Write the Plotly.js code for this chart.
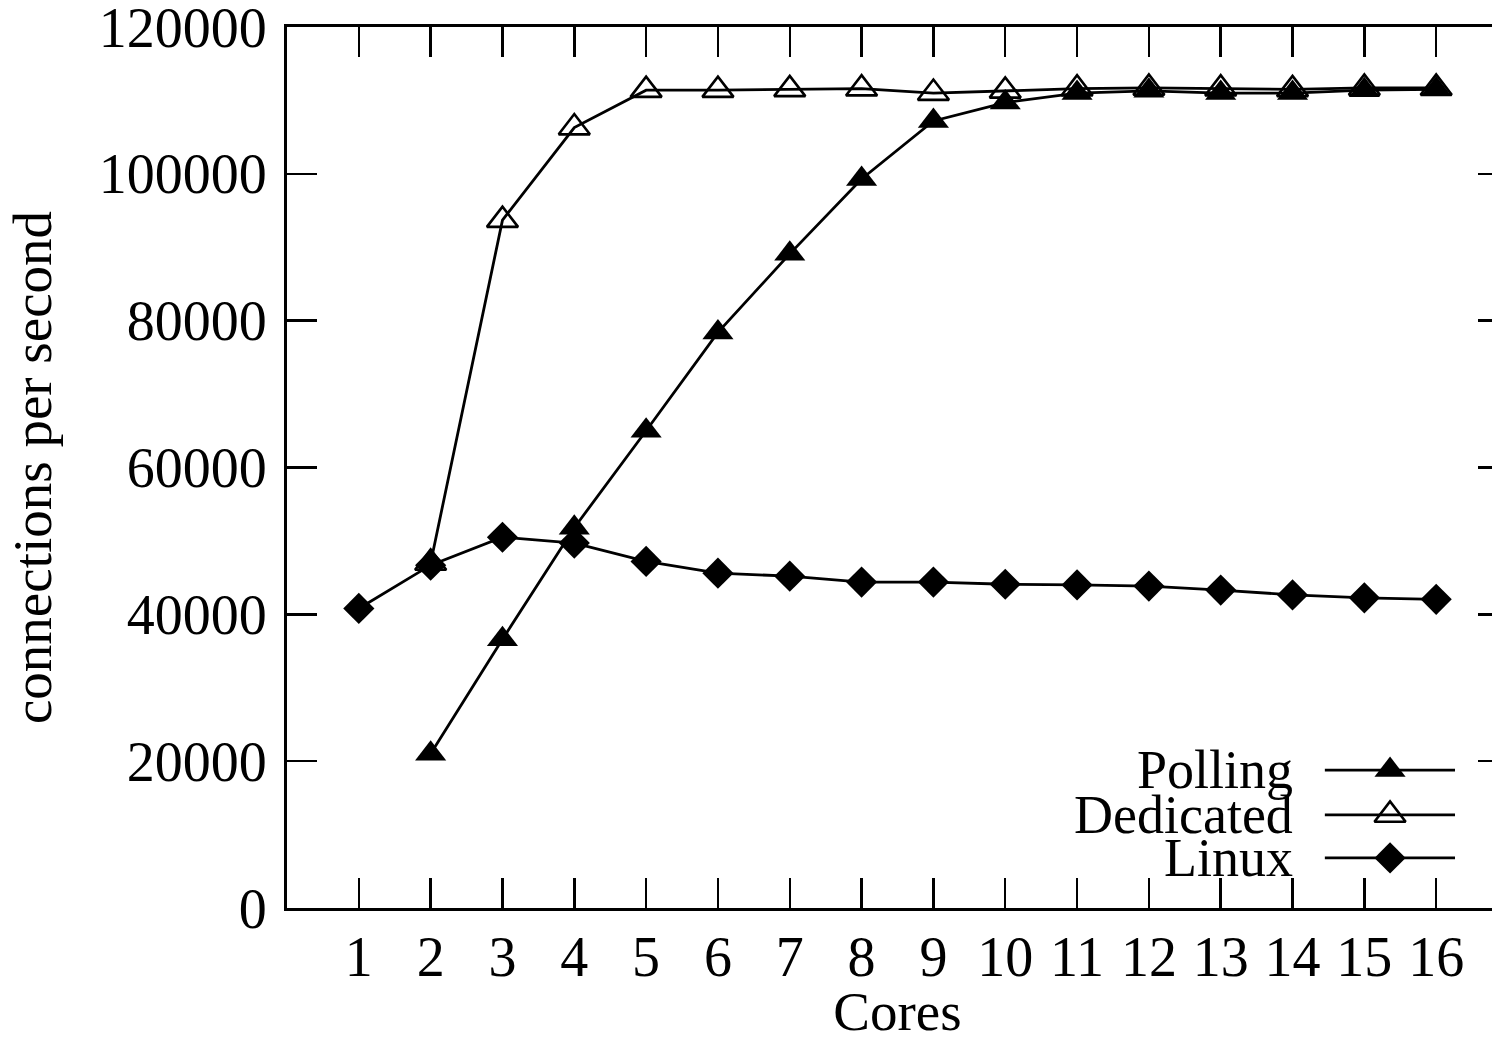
<!DOCTYPE html>
<html>
<head>
<meta charset="utf-8">
<script src="https://cdn.plot.ly/plotly-3.0.1.min.js"></script>
<style>
html, body { margin: 0; padding: 0; overflow: hidden; background: #fff; }
#chart { width: 1530px; height: 1042px; }
</style>
</head>
<body>
<div id="chart"></div>
<script>
// ---- data ----
const allCores = [1, 2, 3, 4, 5, 6, 7, 8, 9, 10, 11, 12, 13, 14, 15, 16];
const multiCores = [2, 3, 4, 5, 6, 7, 8, 9, 10, 11, 12, 13, 14, 15, 16];
const polling = [21000, 36600, 51800, 65000, 78400, 89100, 99300, 107200, 109700, 111000, 111300, 111000, 111000, 111400, 111500];
const dedicated = [47000, 93700, 106300, 111400, 111400, 111500, 111600, 111000, 111300, 111600, 111700, 111600, 111500, 111700, 111700];
const linux = [40800, 46700, 50500, 49700, 47200, 45600, 45200, 44400, 44400, 44100, 44000, 43850, 43300, 42650, 42250, 42050];
const seriesNames = ["Polling", "Dedicated", "Linux"];
const yTicks = [0, 20000, 40000, 60000, 80000, 100000, 120000];
const xLabel = "Cores";
const yLabel = "connections per second";

// ---- style ----
const FONT = "Liberation Serif, Times New Roman, serif";
const FS_TICK = 56, FS_TITLE = 55, FS_LEG = 54;
const LW = 2.8;
const symbols = ["triangle-up", "triangle-up-open", "diamond"];
const sizes = [27, 27, 24];

function markerFor(i) {
  return {
    symbol: symbols[i],
    size: sizes[i],
    color: "#000",
    opacity: 1,
    line: { color: "#000", width: i === 1 ? 2.6 : 0 }
  };
}

const traces = [
  { x: multiCores, y: polling, name: seriesNames[0], mode: "lines+markers",
    line: { color: "#000", width: LW }, marker: markerFor(0), showlegend: false },
  { x: multiCores, y: dedicated, name: seriesNames[1], mode: "lines+markers",
    line: { color: "#000", width: LW }, marker: markerFor(1), showlegend: false },
  { x: allCores, y: linux, name: seriesNames[2], mode: "lines+markers",
    line: { color: "#000", width: LW }, marker: markerFor(2), showlegend: false }
];

// ---- custom legend (text left, sample right, like gnuplot) ----
const legendRowsY = [0.1566, 0.1056, 0.0568];
const legLineX0 = 0.850, legLineX1 = 0.9566, legMarkX = 0.9034, legTextX = 0.8255;
const annotations = [];
seriesNames.forEach((n, i) => {
  traces.push({
    x: [legLineX0, legMarkX, legLineX1], y: [legendRowsY[i], legendRowsY[i], legendRowsY[i]],
    xaxis: "x2", yaxis: "y2", mode: "lines+markers", showlegend: false, hoverinfo: "skip",
    line: { color: "#000", width: LW },
    marker: Object.assign(markerFor(i), { size: [0, sizes[i], 0] })
  });
  annotations.push({ xref: "paper", yref: "paper", x: legTextX, y: legendRowsY[i],
    xanchor: "right", yanchor: "middle", showarrow: false, text: n,
    font: { family: FONT, size: FS_LEG, color: "#000" } });
});

const layout = {
  width: 1530, height: 1042,
  margin: { l: 287, r: 22, t: 27, b: 134, pad: 0 },
  paper_bgcolor: "#fff", plot_bgcolor: "#fff",
  font: { family: FONT, size: FS_TICK, color: "#000" },
  showlegend: false,
  xaxis: {
    range: [0, 17], tickmode: "array", tickvals: allCores, ticktext: allCores.map(String),
    ticks: "inside", ticklen: 30, tickwidth: 2.5, tickcolor: "#000",
    showline: true, linecolor: "#000", linewidth: 3, mirror: "allticks",
    showgrid: false, zeroline: false, ticklabelstandoff: -2, ticklabeloverflow: "allow",
    tickfont: { family: FONT, size: FS_TICK, color: "#000" },
    title: { text: xLabel, font: { family: FONT, size: FS_TITLE, color: "#000" }, standoff: 14 },
    automargin: false
  },
  yaxis: {
    range: [0, 120000], tickmode: "array", tickvals: yTicks, ticktext: yTicks.map(String),
    ticks: "inside", ticklen: 30, tickwidth: 2.5, tickcolor: "#000",
    showline: true, linecolor: "#000", linewidth: 3, mirror: "allticks",
    showgrid: false, zeroline: false, ticklabelstandoff: 6, ticklabeloverflow: "allow",
    tickfont: { family: FONT, size: FS_TICK, color: "#000" },
    title: { text: yLabel, font: { family: FONT, size: FS_TITLE, color: "#000" }, standoff: 30 },
    automargin: false
  },
  xaxis2: { overlaying: "x", range: [0, 1], visible: false, fixedrange: true },
  yaxis2: { overlaying: "y", range: [0, 1], visible: false, fixedrange: true },
  annotations: annotations
};

Plotly.newPlot("chart", traces, layout, { displayModeBar: false, staticPlot: true });
</script>
</body>
</html>
